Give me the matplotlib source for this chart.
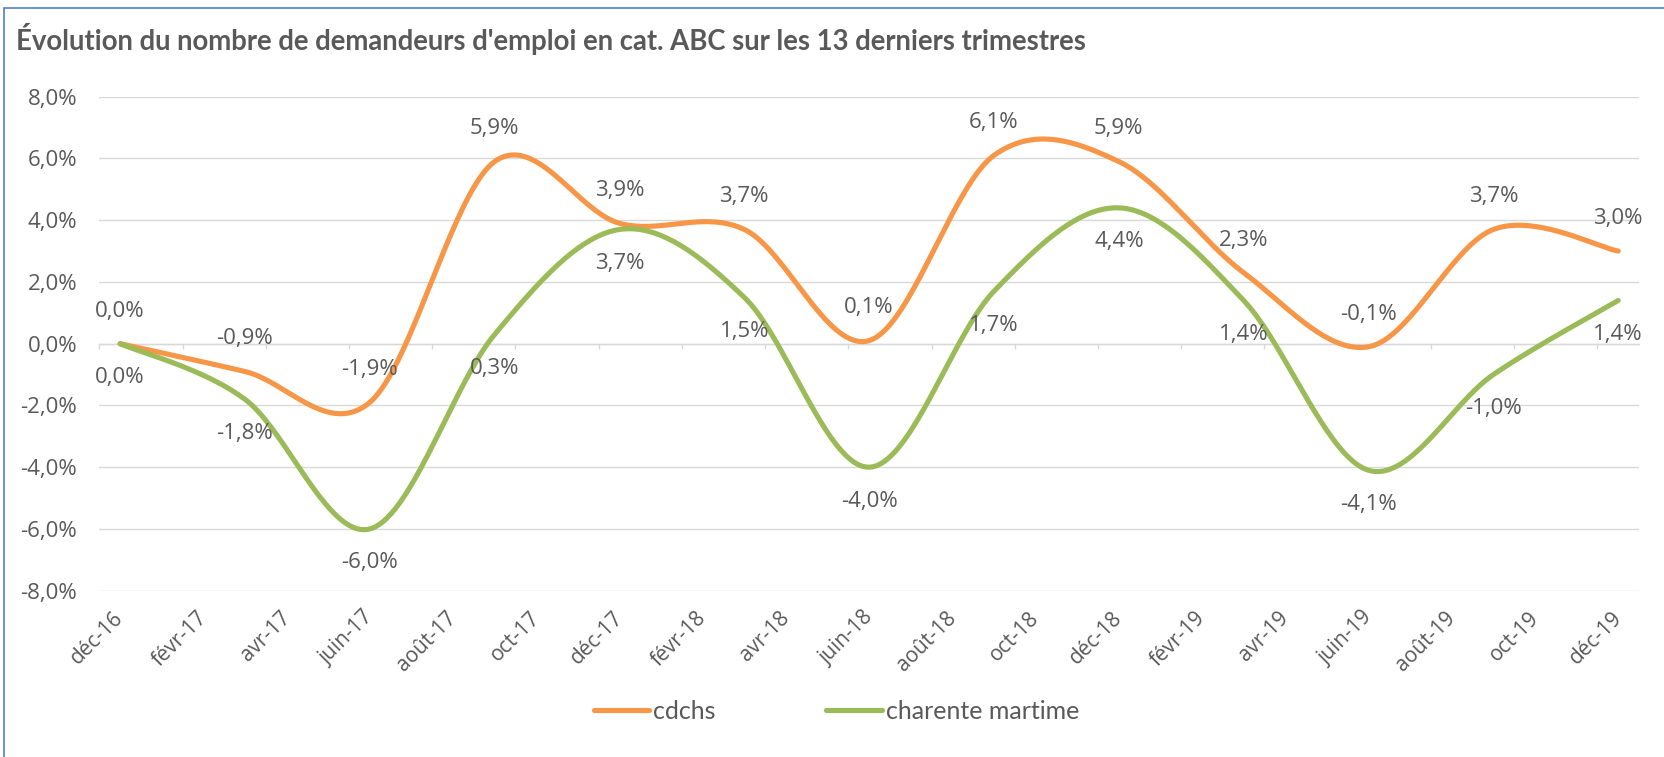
import numpy as np
import matplotlib
matplotlib.use("Agg")
import matplotlib.pyplot as plt
from matplotlib.patches import Rectangle
from matplotlib.transforms import ScaledTranslation

# ---------------- data ----------------
quarters = ['déc-16', 'mars-17', 'juin-17', 'sept-17', 'déc-17', 'mars-18', 'juin-18',
            'sept-18', 'déc-18', 'mars-19', 'juin-19', 'sept-19', 'déc-19']
cdchs = [0.0, -0.9, -1.9, 5.9, 3.9, 3.7, 0.1, 6.1, 5.9, 2.3, -0.1, 3.7, 3.0]
charente = [0.0, -1.8, -6.0, 0.3, 3.7, 1.5, -4.0, 1.7, 4.4, 1.4, -4.1, -1.0, 1.4]
x_labels = ['déc-16', 'févr-17', 'avr-17', 'juin-17', 'août-17', 'oct-17', 'déc-17',
            'févr-18', 'avr-18', 'juin-18', 'août-18', 'oct-18', 'déc-18', 'févr-19',
            'avr-19', 'juin-19', 'août-19', 'oct-19', 'déc-19']
y_ticks = [-8, -6, -4, -2, 0, 2, 4, 6, 8]
series_names = ['cdchs', 'charente martime']
title = "Évolution du nombre de demandeurs d'emploi en cat. ABC sur les 13 derniers trimestres"

# ---------------- helpers ----------------
MONTHS = {'janv': 1, 'févr': 2, 'mars': 3, 'avr': 4, 'mai': 5, 'juin': 6, 'juil': 7,
          'août': 8, 'sept': 9, 'oct': 10, 'nov': 11, 'déc': 12}


def month_index(lbl):
    m, y = lbl.split('-')
    return (2000 + int(y)) * 12 + MONTHS[m]


base = month_index(quarters[0])
xq = np.array([month_index(q) - base for q in quarters], dtype=float)
xl = np.array([month_index(l) - base for l in x_labels], dtype=float)


def fmt(v):
    return f"{v:.1f}".replace('.', ',') + '%'


def smooth(x, y, n=40):
    """Excel-like smoothed line (Catmull-Rom bezier)."""
    P = np.column_stack([x, y]).astype(float)
    k = len(P)
    out = []
    for i in range(k - 1):
        p0 = P[i]
        p3 = P[i + 1]
        pm = P[i - 1] if i > 0 else P[i]
        pp = P[i + 2] if i + 2 < k else P[i + 1]
        c1 = p0 + (p3 - pm) / 6.0
        c2 = p3 - (pp - p0) / 6.0
        t = np.linspace(0, 1, n)[:, None]
        seg = ((1 - t) ** 3) * p0 + 3 * ((1 - t) ** 2) * t * c1 + 3 * (1 - t) * t ** 2 * c2 + t ** 3 * p3
        if i > 0:
            seg = seg[1:]
        out.append(seg)
    out = np.vstack(out)
    return out[:, 0], out[:, 1]


# ---------------- style ----------------
TXT = '#595959'
GRID = '#D9D9D9'
ORANGE = '#F79646'
GREEN = '#9BBB59'
BORDER = '#4472C4'
NUMFONT = ['Open Sans', 'DejaVu Sans']
TFONT = ['Lato', 'DejaVu Sans']

W, H, DPI = 1665, 757, 100
fig = plt.figure(figsize=(W / DPI, H / DPI), dpi=DPI)
fig.patch.set_facecolor('white')

# plot area in pixels
left, right, top, bottom = 99.3, 1639.0, 96.7, 590.7
ax = fig.add_axes([left / W, 1 - bottom / H, (right - left) / W, (bottom - top) / H])
ax.set_facecolor('none')

ax.set_xlim(xq[0] - 0.5, xq[-1] + 0.5)
ax.set_ylim(y_ticks[0], y_ticks[-1])

# y axis
ax.set_yticks(y_ticks)
ax.set_yticklabels([fmt(v) for v in y_ticks], fontfamily=NUMFONT, fontsize=16, color=TXT)
ax.tick_params(axis='y', length=0, pad=16)
ax.grid(axis='y', color=GRID, linewidth=1.0, zorder=0)
ax.set_axisbelow(True)
for s in ['left', 'right', 'top']:
    ax.spines[s].set_visible(False)

# horizontal axis line at 0 with tick marks at slot boundaries
ax.spines['bottom'].set_position(('data', 0))
ax.spines['bottom'].set_color(GRID)
ax.spines['bottom'].set_linewidth(1.0)
ax.set_xticks(xl - 0.5)
ax.set_xticklabels([])
ax.tick_params(axis='x', direction='out', length=3.8, width=1.0, color=GRID)

# tick labels on a secondary axis at the bottom
sec = ax.secondary_xaxis('bottom')
sec.spines['bottom'].set_visible(False)
sec.set_xticks(xl)
sec.set_xticklabels(x_labels, rotation=45, ha='right', va='top', rotation_mode='anchor',
                    fontfamily=NUMFONT, fontsize=15, color=TXT)
sec.tick_params(axis='x', length=0, pad=12)
shift = ScaledTranslation(-7 / DPI, 0, fig.dpi_scale_trans)
for lbl in sec.get_xticklabels():
    lbl.set_transform(lbl.get_transform() + shift)

# lines
colors = [ORANGE, GREEN]
handles = []
for vals, col, name in zip([cdchs, charente], colors, series_names):
    sx, sy = smooth(xq, vals)
    ln, = ax.plot(sx, sy, color=col, linewidth=3.7, solid_capstyle='round',
                  solid_joinstyle='round', zorder=3, clip_on=False, label=name)
    handles.append(ln)

# data labels
for vals, off in [(cdchs, 23.5), (charente, -24.5)]:
    for x, v in zip(xq, vals):
        ax.annotate(fmt(v), xy=(x, v), xytext=(0, off), textcoords='offset points',
                    ha='center', va='center', fontfamily=NUMFONT, fontsize=16,
                    color=TXT, zorder=4)

# legend
leg = fig.legend(handles=handles, labels=series_names, loc='center',
                 bbox_to_anchor=(836.3 / W, 1 - 711.7 / H), ncol=2, frameon=False,
                 prop={'family': TFONT, 'size': 18}, handlelength=2.23,
                 handletextpad=0.16, columnspacing=4.4, borderpad=0)
for t in leg.get_texts():
    t.set_color(TXT)
for lh in leg.get_lines():
    lh.set_linewidth(3.7)
    lh.set_solid_capstyle('round')

# title
fig.text(16 / W, 1 - 50 / H, title, ha='left', va='baseline', fontfamily=TFONT,
         fontweight='bold', fontsize=19.8, color=TXT)

# chart border (left and top visible)
fig.add_artist(Rectangle((4 / W, -0.05), 1.2, 1 - 8 / H + 0.05, transform=fig.transFigure,
                         fill=False, edgecolor=BORDER, linewidth=1.1))

fig.savefig('out.png', dpi=DPI, facecolor='white')
